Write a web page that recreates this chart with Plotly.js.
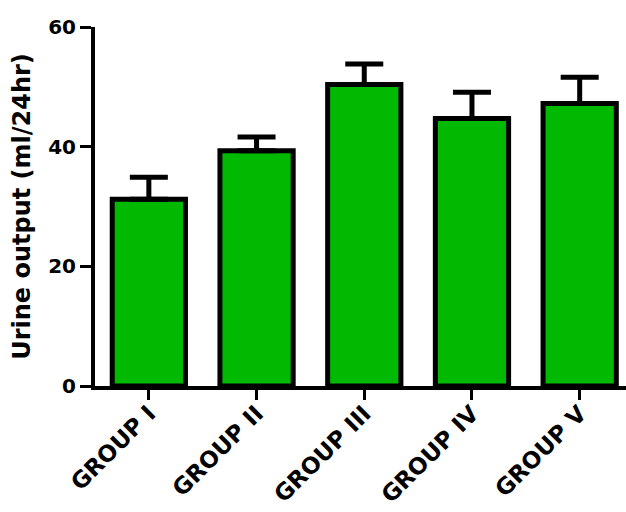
<!DOCTYPE html>
<html>
<head>
<meta charset="utf-8">
<script src="https://cdn.plot.ly/plotly-3.0.1.min.js"></script>
<style>html,body{margin:0;padding:0;background:#fff;}</style>
</head>
<body>
<div id="chart" style="width:626px;height:512px;"></div>
<script>
var categories = ["GROUP I", "GROUP II", "GROUP III", "GROUP IV", "GROUP V"];
var urineOutput = [31.2, 39.3, 50.4, 44.7, 47.2];
var errorUpper = [3.7, 2.3, 3.4, 4.4, 4.4];
var yTickValues = [0, 20, 40, 60];

var FONT = "DejaVu Sans, Verdana, sans-serif";

var trace = {
  type: "bar",
  x: categories,
  y: urineOutput,
  width: 0.68,
  marker: { color: "#00B900", line: { color: "#000", width: 5 } },
  error_y: {
    type: "data",
    symmetric: false,
    array: errorUpper,
    arrayminus: categories.map(function(){return 0;}),
    color: "#000",
    thickness: 5,
    width: 19
  },
  hoverinfo: "none"
};

var layout = {
  width: 626, height: 512,
  margin: { l: 95, r: 0, t: 27, b: 126 },
  paper_bgcolor: "#fff", plot_bgcolor: "#fff",
  showlegend: false,
  font: { family: FONT, color: "#000" },
  xaxis: {
    range: [-0.5, 4.43],
    showgrid: false, zeroline: false,
    showline: true, linecolor: "#000", linewidth: 4,
    ticks: "outside", ticklen: 10, tickwidth: 3, tickcolor: "#000",
    tickangle: -45,
    ticklabelstandoff: -9,
    tickfont: { size: 23, family: FONT, weight: "bold", color: "#000" }
  },
  yaxis: {
    range: [0, 60],
    tickvals: yTickValues,
    ticktext: yTickValues.map(String),
    showgrid: false, zeroline: false,
    showline: true, linecolor: "#000", linewidth: 4,
    ticks: "outside", ticklen: 11, tickwidth: 3, tickcolor: "#000",
    tickfont: { size: 20, family: FONT, weight: "bold", color: "#000" },
    title: { text: "Urine output (ml/24hr)", standoff: 12,
      font: { size: 24, family: FONT, weight: "bold", color: "#000" } }
  }
};

Plotly.newPlot("chart", [trace], layout, { displayModeBar: false, staticPlot: true });
</script>
</body>
</html>
